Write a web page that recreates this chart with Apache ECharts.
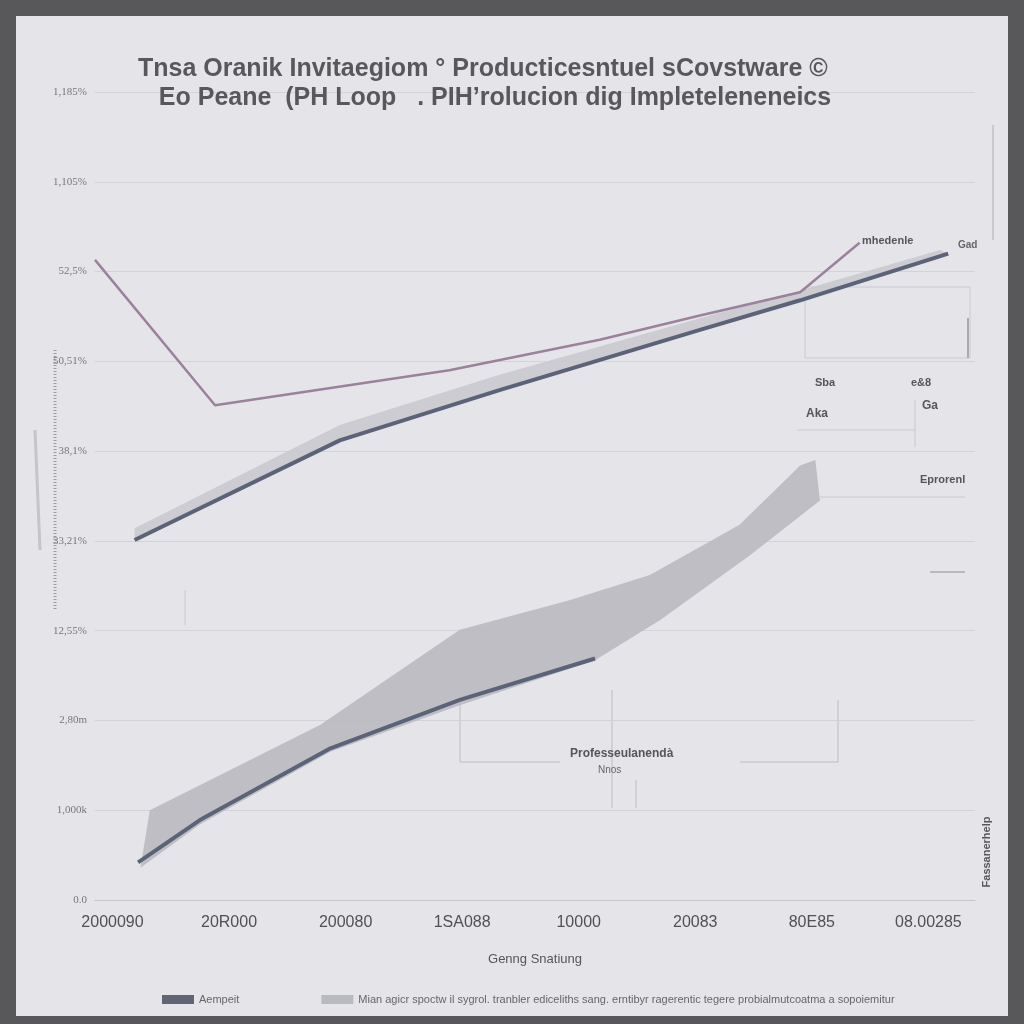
<!DOCTYPE html>
<html>
<head>
<meta charset="utf-8">
<script src="https://cdn.jsdelivr.net/npm/echarts@6/dist/echarts.min.js"></script>
<style>
html,body{margin:0;padding:0;background:#58585a;}
#chart{width:1024px;height:1024px;}
</style>
</head>
<body>
<div id="chart"></div>
<script>
// x positions are category indexes, the value axis only shows the names
var xNames = ['2000090', '20R000', '200080', '1SA088', '10000', '20083', '80E85', '08.00285'];
var yNames = ['0.0', '1,000k', '2,80m', '12,55%', '33,21%', '38,1%', '50,51%', '52,5%', '1,105%', '1,185%'];

// purple line
var purpleLine = [[-0.15, 7.13], [0.88, 5.51], [2.89, 5.90], [4.18, 6.24], [5.04, 6.51], [5.90, 6.77], [6.41, 7.32]];
// upper dark line
var upperLine = [[0.19, 4.01], [1.95, 5.12], [3.32, 5.68], [5.04, 6.35], [5.90, 6.68], [7.17, 7.20]];
// lower dark line
var lowerLine = [[0.22, 0.42], [0.75, 0.89], [1.87, 1.69], [2.98, 2.23], [4.14, 2.69]];
// light ribbon over upper line
var upperBand = [[0.19, 4.14], [1.95, 5.29], [3.32, 5.85], [5.04, 6.48], [5.90, 6.79], [7.10, 7.24],
                 [7.17, 7.20], [5.90, 6.68], [5.04, 6.35], [3.32, 5.68], [1.95, 5.12], [0.19, 4.01]];
// gray band around lower line
var lowerBand = [[0.32, 1.00], [1.78, 1.95], [2.98, 3.01], [3.92, 3.34], [4.61, 3.62], [5.38, 4.18], [5.90, 4.84], [6.03, 4.90],
                 [6.07, 4.45], [5.47, 3.84], [4.70, 3.12], [4.14, 2.67], [2.98, 2.17], [1.87, 1.65], [0.75, 0.84], [0.24, 0.36]];

var nameA = 'Aempeit';
var nameB = 'Mian agicr spoctw il sygrol. tranbler ediceliths sang. erntibyr ragerentic tegere probialmutcoatma a sopoiemitur';

function polygonSeries(name, pts, color, z) {
	return {
		name: name,
		type: 'custom',
		z: z,
		itemStyle: {color: color},
		data: pts,
		renderItem: function(params, api) {
			if (params.dataIndex !== 0) return;
			var coords = pts.map(function(p) { return api.coord(p); });
			return {
				type: 'polygon',
				shape: {points: coords},
				style: {fill: color, opacity: 0.9}
			};
		}
	};
}

var myChart = echarts.init(document.getElementById('chart'));

var lineGray = '#c9c9ce';
var smallFont = function(size, w) { return (w || 'bold') + ' ' + size + 'px "Liberation Sans", sans-serif'; };

option = {
	backgroundColor: '#58585a',
	animation: false,
	title: {
		text: 'Tnsa Oranik Invitaegiom \u00b0 Producticesntuel sCovstware \u00a9\n   Eo Peane  (PH Loop   . PIH\u2019rolucion dig Impleteleneneics',
		left: 133,
		top: 50,
		textStyle: {
			fontFamily: 'Liberation Sans, sans-serif',
			fontSize: 25,
			fontWeight: 'bold',
			color: '#58585c',
			lineHeight: 29
		}
	},
	graphic: [
		{type: 'rect', z: -10, shape: {x: 16, y: 16, width: 992, height: 1000}, style: {fill: '#e5e5e9'}},
		// boxes and leader lines on the right
		{type: 'rect', shape: {x: 805, y: 287, width: 165, height: 71}, style: {fill: 'none', stroke: lineGray, lineWidth: 1}},
		{type: 'line', shape: {x1: 968, y1: 318, x2: 968, y2: 358}, style: {stroke: '#a9a9ae', lineWidth: 2}},
		{type: 'line', shape: {x1: 797, y1: 430, x2: 915, y2: 430}, style: {stroke: lineGray, lineWidth: 1}},
		{type: 'line', shape: {x1: 915, y1: 400, x2: 915, y2: 447}, style: {stroke: lineGray, lineWidth: 1}},
		{type: 'line', shape: {x1: 820, y1: 497, x2: 965, y2: 497}, style: {stroke: lineGray, lineWidth: 1}},
		{type: 'line', shape: {x1: 930, y1: 572, x2: 965, y2: 572}, style: {stroke: '#b8b8bd', lineWidth: 2}},
		{type: 'line', shape: {x1: 993, y1: 125, x2: 993, y2: 240}, style: {stroke: lineGray, lineWidth: 2}},
		{type: 'line', shape: {x1: 185, y1: 590, x2: 185, y2: 625}, style: {stroke: lineGray, lineWidth: 1}},
		// lower annotation box
		{type: 'polyline', shape: {points: [[460, 695], [460, 762], [560, 762]]}, style: {fill: 'none', stroke: '#bdbdc2', lineWidth: 1}},
		{type: 'polyline', shape: {points: [[740, 762], [838, 762], [838, 700]]}, style: {fill: 'none', stroke: '#bdbdc2', lineWidth: 1}},
		{type: 'line', shape: {x1: 612, y1: 690, x2: 612, y2: 808}, style: {stroke: '#d0d0d5', lineWidth: 2}},
		{type: 'line', shape: {x1: 636, y1: 780, x2: 636, y2: 808}, style: {stroke: '#d0d0d5', lineWidth: 2}},
		// hatched mark beside y axis
		{type: 'line', shape: {x1: 55, y1: 350, x2: 55, y2: 610}, style: {stroke: '#9a9aa0', lineWidth: 3, lineDash: [1, 2]}},
		{type: 'line', shape: {x1: 35, y1: 430, x2: 40, y2: 550}, style: {stroke: '#c4c4c9', lineWidth: 3}},
		// labels
		{type: 'text', x: 862, y: 235, style: {text: 'mhedenle', font: smallFont(11), fill: '#55555a'}},
		{type: 'text', x: 958, y: 240, style: {text: 'Gad', font: smallFont(10), fill: '#66666a'}},
		{type: 'text', x: 815, y: 377, style: {text: 'Sba', font: smallFont(11), fill: '#55555a'}},
		{type: 'text', x: 911, y: 377, style: {text: 'e&8', font: smallFont(11), fill: '#55555a'}},
		{type: 'text', x: 806, y: 408, style: {text: 'Aka', font: smallFont(12), fill: '#55555a'}},
		{type: 'text', x: 922, y: 400, style: {text: 'Ga', font: smallFont(12), fill: '#55555a'}},
		{type: 'text', x: 920, y: 474, style: {text: 'Eprorenl', font: smallFont(11), fill: '#55555a'}},
		{type: 'text', x: 570, y: 748, style: {text: 'Professeulanend\u00e0', font: smallFont(12), fill: '#55555a'}},
		{type: 'text', x: 598, y: 765, style: {text: 'Nnos', font: smallFont(10, 'normal'), fill: '#66666a'}},
		{type: 'text', x: 987, y: 852, rotation: Math.PI / 2, style: {text: 'Fassanerhelp', font: smallFont(11), fill: '#55555a', align: 'center', verticalAlign: 'middle'}}
	],
	legend: {
		bottom: 14,
		left: 157,
		itemWidth: 32,
		itemHeight: 9,
		itemGap: 82,
		textStyle: {color: '#66666a', fontSize: 11, fontFamily: 'Liberation Sans, sans-serif'},
		data: [{name: nameA, icon: 'rect'}, {name: nameB, icon: 'rect'}]
	},
	grid: {left: 95, right: 49, top: 92, bottom: 124},
	xAxis: {
		type: 'value',
		min: -0.15,
		max: 7.4,
		name: 'Genng Snatiung',
		nameLocation: 'middle',
		nameGap: 53,
		nameTextStyle: {color: '#55555a', fontSize: 13, fontFamily: 'Liberation Sans, sans-serif'},
		axisLine: {lineStyle: {color: '#c4c4c9'}},
		axisTick: {show: false},
		splitLine: {show: false},
		axisLabel: {
			customValues: [0, 1, 2, 3, 4, 5, 6, 7],
			margin: 15,
			color: '#505055',
			fontSize: 16,
			fontFamily: 'Liberation Sans, sans-serif',
			formatter: function(v) { return xNames[Math.round(v)]; }
		}
	},
	yAxis: {
		type: 'value',
		min: 0,
		max: 9,
		interval: 1,
		axisLine: {show: false},
		axisTick: {show: false},
		splitLine: {lineStyle: {color: '#d2d2d7'}},
		axisLabel: {
			margin: 8,
			color: '#77777c',
			fontSize: 11,
			fontFamily: 'Liberation Serif, serif',
			formatter: function(v) { return yNames[Math.round(v)]; }
		}
	},
	series: [
		polygonSeries(nameB, lowerBand, '#b9b9c0', 1),
		polygonSeries(nameB, upperBand, '#c9c9cf', 1),
		{
			name: 'purple',
			type: 'line',
			z: 3,
			symbol: 'none',
			lineStyle: {color: '#9c819d', width: 2.5},
			data: purpleLine
		},
		{
			name: nameA,
			type: 'line',
			z: 4,
			symbol: 'none',
			itemStyle: {color: '#5f6575'},
			lineStyle: {color: '#5c6378', width: 4},
			data: upperLine
		},
		{
			name: nameA,
			type: 'line',
			z: 4,
			symbol: 'none',
			itemStyle: {color: '#5f6575'},
			lineStyle: {color: '#5c6378', width: 4},
			data: lowerLine
		}
	]
};
myChart.setOption(option);
</script>
</body>
</html>
